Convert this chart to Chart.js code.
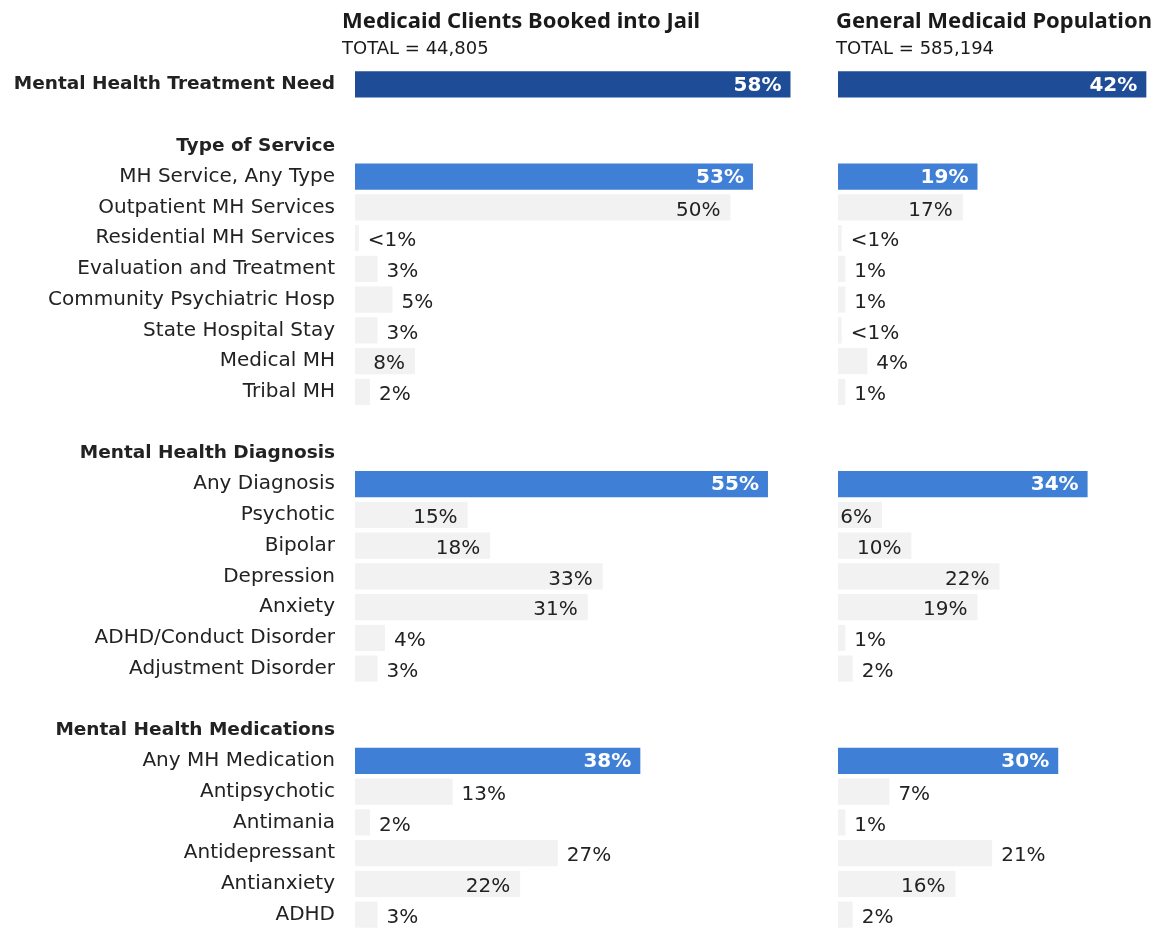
<!DOCTYPE html>
<html>
<head>
<meta charset="utf-8">
<script src="https://cdn.jsdelivr.net/npm/chart.js@4/dist/chart.umd.min.js"></script>
<style>
  html, body { margin: 0; padding: 0; background: #ffffff; }
  #wrap { position: relative; width: 1155px; height: 930px; }
  #jailChart { position: absolute; left: 0; top: 0; }
  #generalChart { position: absolute; left: 800px; top: 0; }
</style>
</head>
<body>
<div id="wrap">
  <canvas id="jailChart" width="800" height="930"></canvas>
  <canvas id="generalChart" width="355" height="930"></canvas>
</div>
<script>
// 行ラベル（空文字は区切りの空行）
const categories = [
  'Mental Health Treatment Need', '',
  'Type of Service', 'MH Service, Any Type', 'Outpatient MH Services',
  'Residential MH Services', 'Evaluation and Treatment', 'Community Psychiatric Hosp',
  'State Hospital Stay', 'Medical MH', 'Tribal MH', '',
  'Mental Health Diagnosis', 'Any Diagnosis', 'Psychotic', 'Bipolar', 'Depression',
  'Anxiety', 'ADHD/Conduct Disorder', 'Adjustment Disorder', '',
  'Mental Health Medications', 'Any MH Medication', 'Antipsychotic', 'Antimania',
  'Antidepressant', 'Antianxiety', 'ADHD'
];

// 値（%）。0.5 は "<1%" として表示
const jailValues = [
  58, null,
  null, 53, 50, 0.5, 3, 5, 3, 8, 2, null,
  null, 55, 15, 18, 33, 31, 4, 3, null,
  null, 38, 13, 2, 27, 22, 3
];
const generalValues = [
  42, null,
  null, 19, 17, 0.5, 1, 1, 0.5, 4, 1, null,
  null, 34, 6, 10, 22, 19, 1, 2, null,
  null, 30, 7, 1, 21, 16, 2
];

const jailTitle = 'Medicaid Clients Booked into Jail';
const jailTotal = 'TOTAL = 44,805';
const generalTitle = 'General Medicaid Population';
const generalTotal = 'TOTAL = 585,194';

// 行の種類
const headlineRow = 'Mental Health Treatment Need';
const sectionRows = ['Type of Service', 'Mental Health Diagnosis', 'Mental Health Medications'];
const summaryRows = ['MH Service, Any Type', 'Any Diagnosis', 'Any MH Medication'];
const outsideLabelRows = ['Antipsychotic', 'Antidepressant'];

const FONT = '"DejaVu Sans", "Noto Sans", sans-serif';
const TITLE_FONT = '"Noto Sans", "DejaVu Sans", sans-serif';
const DARK_BLUE = '#1f4c97';
const MID_BLUE = '#3f7fd6';
const LIGHT_GRAY = '#f2f2f2';

function barColor(ctx) {
  const name = categories[ctx.dataIndex];
  if (name === headlineRow) return DARK_BLUE;
  if (summaryRows.includes(name)) return MID_BLUE;
  return LIGHT_GRAY;
}

function formatValue(v) {
  return v < 1 ? '<1%' : v + '%';
}

/**
 * パネル見出しを描画
 */
const panelHeader = {
  id: 'panelHeader',
  afterDraw(chart, args, opts) {
    const ctx = chart.ctx;
    const x = chart.chartArea.left + opts.offset;
    ctx.save();
    ctx.fillStyle = '#1a1a1a';
    ctx.textAlign = 'left';
    ctx.textBaseline = 'alphabetic';
    ctx.font = 'bold 22px ' + TITLE_FONT;
    ctx.fillText(opts.title, x, 28);
    ctx.font = '18px ' + FONT;
    ctx.fillText(opts.total, x, 54);
    ctx.restore();
  }
};

/**
 * バーの値ラベルを描画
 */
const valueLabels = {
  id: 'valueLabels',
  afterDatasetsDraw(chart) {
    const ctx = chart.ctx;
    const meta = chart.getDatasetMeta(0);
    const data = chart.data.datasets[0].data;
    ctx.save();
    ctx.textBaseline = 'middle';
    meta.data.forEach((bar, i) => {
      const v = data[i];
      if (v === null || v === undefined) return;
      const name = categories[i];
      const text = formatValue(v);
      const isBlue = name === headlineRow || summaryRows.includes(name);
      if (isBlue) {
        ctx.font = 'bold 20px ' + FONT;
        ctx.fillStyle = '#ffffff';
        ctx.textAlign = 'right';
        ctx.fillText(text, bar.x - 9, bar.y + 1);
        return;
      }
      ctx.font = '20px ' + FONT;
      ctx.fillStyle = '#222222';
      const inside = v >= 6 && !outsideLabelRows.includes(name);
      if (inside) {
        ctx.textAlign = 'right';
        ctx.fillText(text, bar.x - 10, bar.y + 3);
      } else {
        ctx.textAlign = 'left';
        ctx.fillText(text, bar.x + 9, bar.y + 3);
      }
    });
    ctx.restore();
  }
};

function makeChart(canvasId, values, opts) {
  const ctx = document.getElementById(canvasId).getContext('2d');
  return new Chart(ctx, {
    type: 'bar',
    data: {
      labels: categories,
      datasets: [{
        data: values,
        backgroundColor: barColor,
        borderWidth: 0,
        categoryPercentage: 1,
        barPercentage: 0.85
      }]
    },
    options: {
      indexAxis: 'y',
      responsive: false,
      animation: false,
      layout: {
        padding: { top: 69, bottom: 0, left: opts.padLeft, right: 5 }
      },
      plugins: {
        legend: { display: false },
        tooltip: { enabled: false },
        panelHeader: { title: opts.title, total: opts.total, offset: opts.headerOffset }
      },
      scales: {
        x: {
          display: false,
          min: 0,
          max: opts.xMax
        },
        y: {
          display: opts.showLabels,
          grid: { display: false, drawTicks: false },
          border: { display: false },
          afterFit: scale => {
            if (!opts.showLabels) return;
            scale.width = 355;
            scale.paddingTop = 0;
            scale.paddingBottom = 0;
          },
          ticks: {
            padding: 20,
            color: '#222222',
            autoSkip: false,
            font: c => {
              const name = categories[c.index];
              const bold = name === headlineRow || sectionRows.includes(name);
              return { family: FONT, size: bold ? 18.5 : 20, weight: bold ? 'bold' : 'normal' };
            }
          }
        }
      }
    },
    plugins: [panelHeader, valueLabels]
  });
}

makeChart('jailChart', jailValues, {
  title: jailTitle, total: jailTotal, xMax: 58.6,
  padLeft: 0, showLabels: true, headerOffset: -13
});
makeChart('generalChart', generalValues, {
  title: generalTitle, total: generalTotal, xMax: 42.5,
  padLeft: 38, showLabels: false, headerOffset: -2
});
</script>
</body>
</html>
